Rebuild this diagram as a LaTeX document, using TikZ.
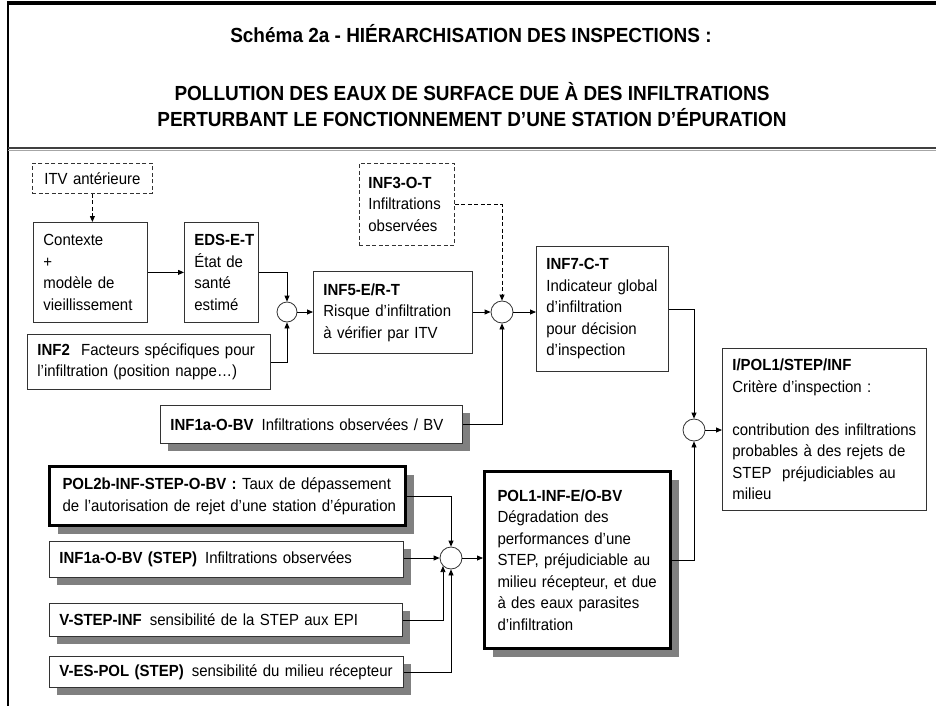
\documentclass[tikz,border=0pt]{standalone}
\usepackage{fontspec}
\setmainfont{Liberation Sans}[FakeStretch=0.93]
\usetikzlibrary{arrows.meta,shadows,calc}
\begin{document}
\begin{tikzpicture}[x=1pt,y=-1pt,
  every node/.style={font=\fontsize{16.1}{21.5}\selectfont},
  bx/.style={draw=black!80, line width=0.8pt, fill=white, anchor=north west, align=left, inner xsep=10pt, inner ysep=0pt},
  dsh/.style={dash pattern=on 4pt off 2.5pt},
  thk/.style={line width=3pt, draw=black, inner xsep=13pt},
  shd/.style={drop shadow={shadow xshift=8pt, shadow yshift=-8pt, fill=black!50, opacity=1}},
  jn/.style={circle, draw=black!80, line width=0.8pt, fill=white, minimum size=22pt, inner sep=0pt},
  ar/.style={-{Triangle[length=6pt,width=5pt]}, line width=0.8pt},
  ttl/.style={font=\bfseries\fontsize{20.4}{25}\selectfont, anchor=base}
]
\useasboundingbox (0,0) rectangle (936,706);
\fill[white] (0,0) rectangle (936,706);

% frame and header
\draw[line width=2.5pt] (8,1.5) -- (8,706);
\draw[line width=3.5pt] (6.75,3) -- (936,3);
\draw[line width=1.5pt, black!75] (8,148) -- (936,148);
\draw[line width=1pt, black!35] (8,150) -- (936,150);
\node[ttl] (t1) at (471,42.3) {Schéma 2a - HIÉRARCHISATION DES INSPECTIONS :};
\node[ttl] (t2) at (472,101) {POLLUTION DES EAUX DE SURFACE DUE À DES INFILTRATIONS};
\node[ttl] (t3) at (472,126) {PERTURBANT LE FONCTIONNEMENT D’UNE STATION D’ÉPURATION};

% boxes
\node[bx, dsh, minimum width=120pt, minimum height=30pt, text width=100pt, align=center] (itv) at (32,163) {\mbox{ITV antérieure}};
\node[bx, minimum width=114pt, minimum height=100pt, text width=94pt] (ctx) at (33,222) {Contexte\\+\\modèle de\\vieillissement};
\node[bx, minimum width=74pt, minimum height=100pt, text width=54pt] (eds) at (184,222) {\mbox{\textbf{EDS-E-T}}\\État de\\santé\\estimé};
\node[bx, minimum width=243pt, minimum height=55pt, text width=223pt, inner xsep=9pt] (inf2) at (27,334) {\mbox{\textbf{INF2}\hspace{0.7em}Facteurs spécifiques pour}\\\mbox{l’infiltration (position nappe…)}};
\node[bx, minimum width=159pt, minimum height=82pt, text width=139pt] (inf5) at (313,271) {\mbox{\textbf{INF5-E/R-T}}\\\mbox{Risque d’infiltration}\\\mbox{à vérifier par ITV}};
\node[bx, dsh, minimum width=95pt, minimum height=82pt, text width=77pt, inner xsep=9pt] (inf3) at (359,163) {\mbox{\textbf{INF3-O-T}}\\Infiltrations\\observées};
\node[bx, minimum width=132pt, minimum height=125pt, text width=112pt] (inf7) at (536,246) {\mbox{\textbf{INF7-C-T}}\\\mbox{Indicateur global}\\d’infiltration\\\mbox{pour décision}\\d’inspection};
\node[bx, shd, minimum width=302pt, minimum height=38pt, text width=282pt] (inf1a) at (160,405) {\mbox{\textbf{INF1a-O-BV}\hspace{0.5em}Infiltrations observées / BV}};
\node[bx, minimum width=204pt, minimum height=162pt, text width=184pt] (ipol) at (722,348) {\mbox{\textbf{I/POL1/STEP/INF}}\\\mbox{Critère d’inspection :}\\[21.5pt]\mbox{contribution des infiltrations}\\\mbox{probables à des rejets de}\\\mbox{STEP\ \ préjudiciables au}\\milieu};
\node[bx, thk, shd, minimum width=186pt, minimum height=177pt, text width=160pt] (pol1) at (483,470) {\mbox{\textbf{POL1-INF-E/O-BV}}\\\mbox{Dégradation des}\\\mbox{performances d’une}\\\mbox{STEP, préjudiciable au}\\\mbox{milieu récepteur, et due}\\\mbox{à des eaux parasites}\\d’infiltration};
\node[bx, thk, shd, minimum width=356pt, minimum height=59pt, text width=330pt] (pol2b) at (48,465) {\mbox{\textbf{POL2b-INF-STEP-O-BV :} Taux de dépassement}\\\mbox{de l’autorisation de rejet d’une station d’épuration}};
\node[bx, shd, minimum width=354pt, minimum height=36pt, text width=334pt] (inf1s) at (49,541) {\mbox{\textbf{INF1a-O-BV (STEP)}\hspace{0.5em}Infiltrations observées}};
\node[bx, shd, minimum width=353pt, minimum height=33pt, text width=333pt] (vstep) at (49,603) {\mbox{\textbf{V-STEP-INF}\hspace{0.5em}sensibilité de la STEP aux EPI}};
\node[bx, shd, minimum width=354pt, minimum height=31pt, text width=334pt] (vespol) at (49,656) {\mbox{\textbf{V-ES-POL (STEP)}\hspace{0.5em}sensibilité du milieu récepteur}};

% junctions
\node[jn, minimum size=20pt] (c1) at (287,312) {};
\node[jn] (c2) at (502,312) {};
\node[jn] (c3) at (694,430) {};
\node[jn] (c4) at (451,558) {};

% connectors
\draw[ar, dsh] (itv.south) -- (itv.south |- ctx.north);
\draw[ar] (ctx.east) -- (eds.west);
\draw[ar] (eds.east) -| (c1.north);
\draw[ar] (inf2.east) -| (c1.south);
\draw[ar] (c1.east) -- (c1 -| inf5.west);
\draw[ar] (inf5.east |- c2) -- (c2.west);
\draw[ar, dsh] (inf3.east) -| (c2.north);
\draw[ar] (inf1a.east) -| (c2.south);
\draw[ar] (c2.east) -- (c2 -| inf7.west);
\draw[ar] (inf7.east) -| (c3.north);
\draw[ar] (pol1.east) -| (c3.south);
\draw[ar] (c3.east) -- (c3 -| ipol.west);
\draw[ar] (pol2b.east) -| (c4.north);
\draw[ar] (inf1s.east |- c4) -- (c4.west);
\draw[ar] (vstep.east) -| (c4.south west);
\draw[ar] (vespol.east) -| (c4.south);
\draw[ar] (c4.east) -- (c4 -| pol1.west);
\end{tikzpicture}
\end{document}
